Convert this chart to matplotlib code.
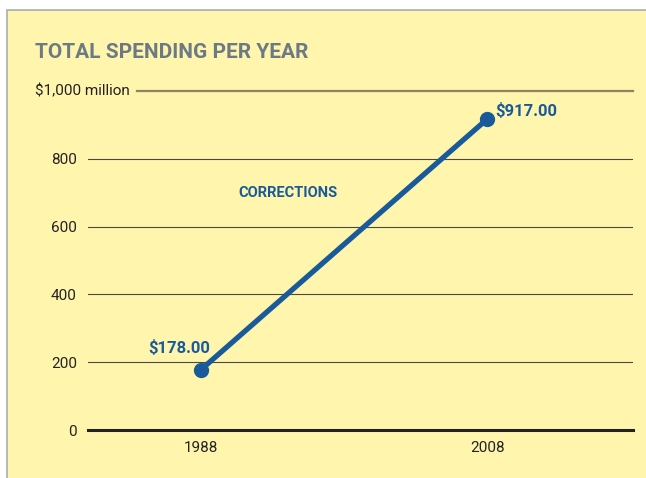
import matplotlib.pyplot as plt
from matplotlib.patches import Rectangle

# data
years = [1988, 2008]
spending = [178.0, 917.0]
point_labels = ["$178.00", "$917.00"]
yticks = [0, 200, 400, 600, 800]
series_name = "CORRECTIONS"

bg = "#fff5ad"
blue = "#195b9a"
plt.rcParams["font.family"] = ["Roboto", "DejaVu Sans"]

W, H = 646, 478
fig = plt.figure(figsize=(W / 100, H / 100), dpi=100)
fig.patch.set_facecolor("white")

# yellow panel with grey border on left/top, in a background axes
bgax = fig.add_axes([0, 0, 1, 1], zorder=-1)
bgax.set_axis_off()
bgax.set_xlim(0, W)
bgax.set_ylim(H, 0)
bgax.add_patch(Rectangle((7, 10), W, H, facecolor=bg,
                         edgecolor="#a8aeb2", linewidth=1.2))

# axes: x from 88 to 633 px, y from 430 (0) to 91 (1000)
ax = fig.add_axes([88 / W, (H - 430) / H, (633 - 88) / W, (430 - 91) / H])
ax.set_facecolor("none")
ax.set_xlim(1980.1, 2018.2)
ax.set_ylim(0, 1000)

for s in ax.spines.values():
    s.set_visible(False)

for y in yticks[1:]:
    ax.axhline(y, color="#4a4a44", linewidth=0.8, zorder=1)
ax.axhline(0, color="#222222", linewidth=2.2, zorder=2, clip_on=False)
# top gridline starts after the unit label
ax.plot([(137 - 88) / (633 - 88), 1], [1, 1], transform=ax.transAxes,
        color="#8c8560", linewidth=1.6, clip_on=False, zorder=1)

ax.set_yticks(yticks)
ax.set_yticklabels([str(v) for v in yticks])
ax.set_xticks(years)
ax.set_xticklabels([str(v) for v in years])
ax.tick_params(length=0, labelsize=11, colors="#222222", pad=8)

ax.plot(years, spending, color=blue, linewidth=3.8, solid_capstyle="round",
        marker="o", markersize=10, zorder=5, clip_on=False)

ax.text(years[0] - 1.5, spending[0] + 65, point_labels[0], color=blue,
        fontsize=12, fontweight="bold", ha="center", va="center")
ax.text(years[1] + 0.6, spending[1] + 25, point_labels[1], color=blue,
        fontsize=12, fontweight="bold", ha="left", va="center")
ax.text(1994.1, 700, series_name, color=blue, fontsize=10.5,
        fontweight="bold", ha="center", va="center")

fig.text(35 / W, 1 - 91 / H, "$1,000 million", fontsize=11, color="#222222",
         ha="left", va="center")
fig.text(35 / W, 1 - 52 / H, "TOTAL SPENDING PER YEAR", fontsize=15,
         fontweight="bold", color="#6b7a85", ha="left", va="center")

fig.savefig("out.png", dpi=100, facecolor=fig.get_facecolor())
